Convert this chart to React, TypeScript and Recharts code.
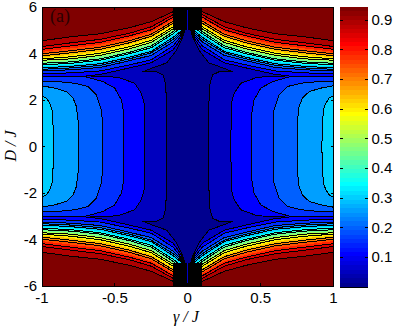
import React from "react";
import { Area, Bar, BarChart, ComposedChart, ReferenceArea, XAxis, YAxis } from "recharts";

// gamma/J columns at which the contour heights were read (left half, mirrored on draw)
const gammaCols = [-1, -0.8, -0.6, -0.4, -0.25, -0.1, -0.05];

// contour level -> D/J of the upper contour at each column
const levelNames = [0.94, 0.9, 0.85, 0.8, 0.75, 0.7, 0.65, 0.6, 0.55, 0.5, 0.45, 0.4, 0.35, 0.3, 0.25, 0.2, 0.15];
const levelHasLine = [1, 1, 1, 0, 1, 1, 0, 1, 1, 0, 1, 1, 0, 1, 1, 1, 1];
const upperContours = [
  [4.55, 4.72, 4.85, 5.11, 5.37, 5.8, 5.97],
  [4.3, 4.46, 4.61, 4.87, 5.15, 5.67, 5.71],
  [4.18, 4.33, 4.48, 4.76, 5.02, 5.56, 5.63],
  [4.07, 4.22, 4.38, 4.66, 4.94, 5.47, 5.54],
  [3.99, 4.12, 4.27, 4.55, 4.83, 5.39, 5.45],
  [3.9, 4.03, 4.18, 4.46, 4.74, 5.3, 5.41],
  [3.84, 3.94, 4.09, 4.38, 4.66, 5.24, 5.37],
  [3.77, 3.86, 4.01, 4.29, 4.57, 5.15, 5.32],
  [3.71, 3.77, 3.92, 4.2, 4.48, 5.06, 5.28],
  [3.64, 3.71, 3.86, 4.14, 4.42, 5.0, 5.24],
  [3.58, 3.64, 3.77, 4.05, 4.33, 4.94, 5.19],
  [3.51, 3.58, 3.71, 3.99, 4.25, 4.85, 5.1],
  [3.45, 3.51, 3.64, 3.92, 4.18, 4.78, 5.02],
  [3.38, 3.45, 3.56, 3.84, 4.09, 4.7, 4.95],
  [3.32, 3.38, 3.49, 3.77, 4.03, 4.61, 4.88],
  [3.25, 3.3, 3.4, 3.69, 3.92, 4.5, 4.8],
  [3.12, 3.17, 3.25, 3.51, 3.73, 4.33, 4.72],
];

// the two low contours start at a tip inside the valley
const upper10X = [-0.69, -0.6, -0.4, -0.25, -0.1, -0.05];
const upper10D = [3.04, 3.1, 3.38, 3.6, 4.16, 4.6];
const upper05X = [-0.31, -0.25, -0.144, -0.075, -0.034];
const upper05D = [3.21, 3.36, 3.6, 4.16, 4.72];

// all upper contours run up into the black column here
const neckX = -0.015;
const neckD = 5.11;

// side lobes (z above the level), lowest first
const lobeLevels = [0.05, 0.1, 0.15, 0.2, 0.25, 0.3];
const lobeX = [
  [-0.31, -0.213, -0.17, -0.153, -0.146, -0.144],
  [-0.695, -0.478, -0.364, -0.318, -0.3, -0.295],
  [-1, -0.707, -0.581, -0.501, -0.455, -0.439, -0.439],
  [-1, -0.89, -0.776, -0.684, -0.627, -0.592, -0.585, -0.585],
  [-1, -0.913, -0.833, -0.787, -0.764, -0.753, -0.753],
  [-1, -0.97, -0.947, -0.931, -0.925, -0.92],
];
const lobeD = [
  [3.21, 3.21, 3.08, 2.73, 2.0, 0],
  [3.04, 2.98, 2.72, 2.29, 1.86, 0],
  [3.01, 3.01, 2.79, 2.51, 2.0, 1.43, 0],
  [2.79, 2.79, 2.72, 2.58, 2.22, 1.57, 1.0, 0],
  [2.61, 2.51, 2.36, 2.08, 1.72, 1.14, 0],
  [2.18, 2.08, 1.86, 1.57, 1.07, 0],
];

const blackColumnX = [-0.1, 0.1];
const blackColumnD = [5.02, 6];
const centreStripeX = [-0.004, 0.004];
const centreStripeD = [5.02, 5.85];

const xTicks = [-1, -0.5, 0, 0.5, 1];
const yTicks = [-6, -4, -2, 0, 2, 4, 6];
const barTicks = [0.1, 0.2, 0.3, 0.4, 0.5, 0.6, 0.7, 0.8, 0.9];
const zMax = 0.944;
const mapSteps = 64;

const PLOT = { left: 42, top: 7, width: 291.5, height: 279 };
const BAR = { left: 340, width: 27.5 };
const FONT = "'Liberation Sans', Arial, sans-serif";
const SERIF = "'Liberation Serif', 'Times New Roman', serif";

// matlab jet, entry i of 64
function jet(i: number) {
  const t = (i + 1) / mapSteps;
  const ch = (c: number) => Math.round(255 * Math.max(0, Math.min(1, 1.5 - Math.abs(4 * t - c))));
  return `rgb(${ch(3)},${ch(2)},${ch(1)})`;
}
const levelColor = (z: number) => jet(Math.round((z / zMax) * (mapSteps - 1)));

type Row = { x: number; band: [number, number] };

function mirrored(xs: number[], ds: number[]): Row[] {
  const left = xs.map((x, i) => ({ x, band: [-ds[i], ds[i]] as [number, number] }));
  left.push({ x: neckX, band: [-neckD, neckD] });
  const right = [...left].reverse().map((r) => ({ x: -r.x, band: r.band }));
  return [...left, ...right];
}

function lobe(xs: number[], ds: number[], side: number): Row[] {
  const rows = xs.map((x, i) => ({ x: x * side, band: [-ds[i], ds[i]] as [number, number] }));
  return side < 0 ? rows.reverse() : rows;
}

const bandArea = (key: string, data: Row[], fill: string, stroke: string | undefined) => (
  <Area
    key={key}
    data={data}
    dataKey="band"
    type="linear"
    fill={fill}
    fillOpacity={1}
    stroke={stroke ?? "none"}
    strokeWidth={1}
    dot={false}
    activeDot={false}
    isAnimationActive={false}
  />
);

const XTick = ({ x, y, payload }: any) => (
  <g>
    <line x1={x} x2={x} y1={y} y2={y - 3} stroke="#000" />
    <line x1={x} x2={x} y1={y - PLOT.height} y2={y - PLOT.height + 3} stroke="#000" />
    <text x={x} y={y + 17} textAnchor="middle" fontSize={15} fontFamily={FONT} fill="#000">
      {payload.value}
    </text>
  </g>
);

const YTick = ({ x, y, payload }: any) => (
  <g>
    <line x1={x} x2={x + 3} y1={y} y2={y} stroke="#000" />
    <line x1={x + PLOT.width} x2={x + PLOT.width - 3} y1={y} y2={y} stroke="#000" />
    <text x={x - 5} y={y + 5} textAnchor="end" fontSize={15} fontFamily={FONT} fill="#000">
      {payload.value}
    </text>
  </g>
);

const BarTick = ({ x, y, payload }: any) => (
  <g>
    <line x1={x} x2={x - 3} y1={y} y2={y} stroke="#000" />
    <line x1={x - BAR.width} x2={x - BAR.width + 3} y1={y} y2={y} stroke="#000" />
    <text x={x + 4} y={y + 5} textAnchor="start" fontSize={15} fontFamily={FONT} fill="#000">
      {payload.value}
    </text>
  </g>
);

function ContourPlot() {
  const areas: React.ReactNode[] = [];
  levelNames.forEach((z, i) => {
    const below = i + 1 < levelNames.length ? levelNames[i + 1] : 0.1;
    areas.push(bandArea(`u${z}`, mirrored(gammaCols, upperContours[i]), levelColor(below), levelHasLine[i] ? "#000" : undefined));
  });
  areas.push(bandArea("u10", mirrored(upper10X, upper10D), levelColor(0.05), "#000"));
  areas.push(bandArea("u05", mirrored(upper05X, upper05D), levelColor(0), "#000"));
  lobeLevels.forEach((z, i) => {
    areas.push(bandArea(`l${z}`, lobe(lobeX[i], lobeD[i], 1), levelColor(z), "#000"));
    areas.push(bandArea(`r${z}`, lobe(lobeX[i], lobeD[i], -1), levelColor(z), "#000"));
  });
  const column = blackColumnX.map((x) => ({ x, band: blackColumnD as [number, number] }));
  const columnLow = blackColumnX.map((x) => ({ x, band: [-blackColumnD[1], -blackColumnD[0]] as [number, number] }));
  const stripe = centreStripeX.map((x) => ({ x, band: centreStripeD as [number, number] }));
  const stripeLow = centreStripeX.map((x) => ({ x, band: [-centreStripeD[1], -centreStripeD[0]] as [number, number] }));

  return (
    <ComposedChart
      width={396}
      height={330}
      margin={{ left: PLOT.left - 1, top: PLOT.top, right: 396 - PLOT.left - PLOT.width, bottom: 330 - PLOT.top - PLOT.height - 1 }}
      style={{ position: "absolute", left: 0, top: 0, shapeRendering: "crispEdges" }}
    >
      <ReferenceArea y1={-6} y2={6} fill="rgb(128,0,0)" fillOpacity={1} stroke="none" />
      {areas}
      {bandArea("black", column, "#000", undefined)}
      {bandArea("blackLow", columnLow, "#000", undefined)}
      {bandArea("stripe", stripe, "rgb(0,0,200)", undefined)}
      {bandArea("stripeLow", stripeLow, "rgb(0,0,200)", undefined)}
      <ReferenceArea y1={-6} y2={6} fill="none" stroke="#000" strokeWidth={1} />
      <XAxis type="number" dataKey="x" domain={[-1, 1]} ticks={xTicks} height={1} tick={XTick} tickLine={false} tickSize={0} tickMargin={0} axisLine={false} allowDataOverflow interval={0} />
      <YAxis type="number" domain={[-6, 6]} ticks={yTicks} width={1} tick={YTick} tickLine={false} tickSize={0} tickMargin={0} axisLine={false} allowDataOverflow interval={0} />
      <text x={186} y={322} textAnchor="middle" fontFamily={SERIF} fontStyle="italic" fontSize={16} fill="#000">γ / J</text>
      <text x={0} y={0} transform="translate(16 146) rotate(-90)" textAnchor="middle" fontFamily={SERIF} fontStyle="italic" fontSize={16} fill="#000">D / J</text>
    </ComposedChart>
  );
}

function ColorBar() {
  const row: Record<string, number> = { name: 0 };
  const steps = Array.from({ length: mapSteps }, (_, i) => i);
  steps.forEach((i) => {
    row[`s${i}`] = zMax / mapSteps;
  });
  return (
    <BarChart
      width={396}
      height={330}
      data={[row]}
      barCategoryGap={0}
      margin={{ left: BAR.left, top: PLOT.top, right: 396 - BAR.left - BAR.width - 1, bottom: 330 - PLOT.top - PLOT.height - 1 }}
      style={{ position: "absolute", left: 0, top: 0, shapeRendering: "crispEdges" }}
    >
      <XAxis dataKey="name" hide />
      {steps.map((i) => (
        <Bar key={i} dataKey={`s${i}`} stackId="map" fill={jet(i)} isAnimationActive={false} />
      ))}
      <ReferenceArea y1={0} y2={zMax} fill="none" stroke="#000" strokeWidth={1} />
      <YAxis orientation="right" type="number" domain={[0, zMax]} ticks={barTicks} width={1} tick={BarTick} tickLine={false} tickSize={0} tickMargin={0} axisLine={false} interval={0} allowDataOverflow />
    </BarChart>
  );
}

export default function App() {
  return (
    <div style={{ position: "absolute", left: 0, top: 0, width: 396, height: 330, background: "#fff" }}>
      <ContourPlot />
      <ColorBar />
      <div style={{ position: "absolute", left: 50, top: 6, fontFamily: SERIF, fontSize: 18, color: "#2a0000" }}>(a)</div>
    </div>
  );
}
